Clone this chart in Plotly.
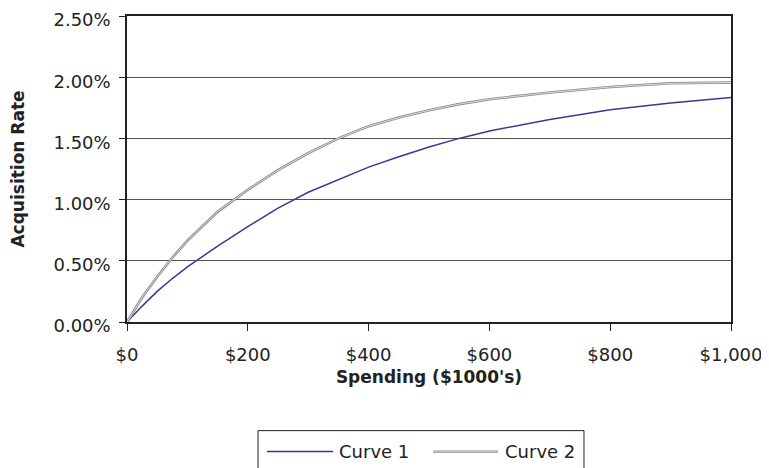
import plotly.graph_objects as go

spending = [0, 25, 50, 75, 100, 150, 200, 250, 300, 350, 400, 450, 500,
            550, 600, 700, 800, 900, 1000]
curve1 = [0.0, 0.13, 0.25, 0.355, 0.45, 0.62, 0.78, 0.93, 1.06, 1.165, 1.265,
          1.35, 1.43, 1.50, 1.56, 1.655, 1.735, 1.79, 1.835]
curve2 = [0.0, 0.20, 0.37, 0.525, 0.665, 0.90, 1.08, 1.24, 1.38, 1.50, 1.60,
          1.67, 1.73, 1.78, 1.82, 1.875, 1.92, 1.95, 1.957]
names = ['Curve 1', 'Curve 2']

x_ticks = [0, 200, 400, 600, 800, 1000]
x_labels = ['$0', '$200', '$400', '$600', '$800', '$1,000']
y_ticks = [0.0, 0.005, 0.01, 0.015, 0.02, 0.025]
y_labels = ['0.00%', '0.50%', '1.00%', '1.50%', '2.00%', '2.50%']

font_family = "DejaVu Sans"
label_font = dict(family=font_family, size=18, color='#222')
title_font = dict(family=font_family, size=17, color='#222')

blue = '#3b3796'
gray_outer = '#8a8a8a'
gray_inner = '#e4e4e4'

fig = go.Figure()
fig.add_trace(go.Scatter(x=spending, y=[v / 100 for v in curve1], mode='lines',
                         name=names[0], line={'color': blue, 'width': 1.5}))
# curve 2 is drawn as a hollow double line
fig.add_trace(go.Scatter(x=spending, y=[v / 100 for v in curve2], mode='lines',
                         name=names[1], line={'color': gray_outer, 'width': 2.6}))
fig.add_trace(go.Scatter(x=spending, y=[v / 100 for v in curve2], mode='lines',
                         name=names[1], line={'color': gray_inner, 'width': 0.9},
                         hoverinfo='skip'))

# hand-built legend box below the axis title (paper coordinates)
shapes = [
    dict(type='rect', xref='paper', yref='paper', x0=0.2169, x1=0.7566, y0=-0.51, y1=-0.355,
         line=dict(color='#222', width=1), fillcolor='white'),
    dict(type='line', xref='paper', yref='paper', x0=0.2318, x1=0.3411, y0=-0.4235, y1=-0.4235,
         line=dict(color=blue, width=1.5)),
    dict(type='line', xref='paper', yref='paper', x0=0.5066, x1=0.6142, y0=-0.4235, y1=-0.4235,
         line=dict(color=gray_outer, width=2.2)),
    dict(type='line', xref='paper', yref='paper', x0=0.5066, x1=0.6142, y0=-0.4235, y1=-0.4235,
         line=dict(color=gray_inner, width=0.7)),
]
annotations = [
    dict(text=names[0], xref='paper', yref='paper', x=0.3477, y=-0.4235,
         xanchor='left', yanchor='middle', showarrow=False, font=label_font),
    dict(text=names[1], xref='paper', yref='paper', x=0.6225, y=-0.4235,
         xanchor='left', yanchor='middle', showarrow=False, font=label_font),
]

fig.update_layout(
    template='none',
    width=769, height=468,
    margin=dict(l=119, r=46, t=8, b=154),
    paper_bgcolor='white', plot_bgcolor='white',
    font=label_font,
    showlegend=False,
    shapes=shapes,
    annotations=annotations,
)
fig.update_xaxes(
    range=[0, 1000], tickvals=x_ticks, ticktext=x_labels, tickfont=label_font,
    automargin=False, ticklabelstandoff=9,
    showline=True, linecolor='#222', linewidth=1.5, mirror=True,
    ticks='outside', ticklen=7, tickcolor='#222', showgrid=False, zeroline=False,
    title=dict(text="<b>Spending ($1000's)</b>", font=title_font, standoff=7),
)
fig.update_yaxes(
    range=[0, 0.025], tickvals=y_ticks, ticktext=y_labels, tickfont=label_font,
    automargin=False, ticklabelstandoff=5, ticklabelshift=4, ticklabeloverflow='allow',
    showline=True, linecolor='#222', linewidth=1.5, mirror=True,
    ticks='outside', ticklen=6, tickcolor='#222',
    showgrid=True, gridcolor='#555', gridwidth=1, zeroline=False,
    title=dict(text='<b>Acquisition Rate</b>', font=title_font, standoff=29),
)

fig.write_html("out.html")
